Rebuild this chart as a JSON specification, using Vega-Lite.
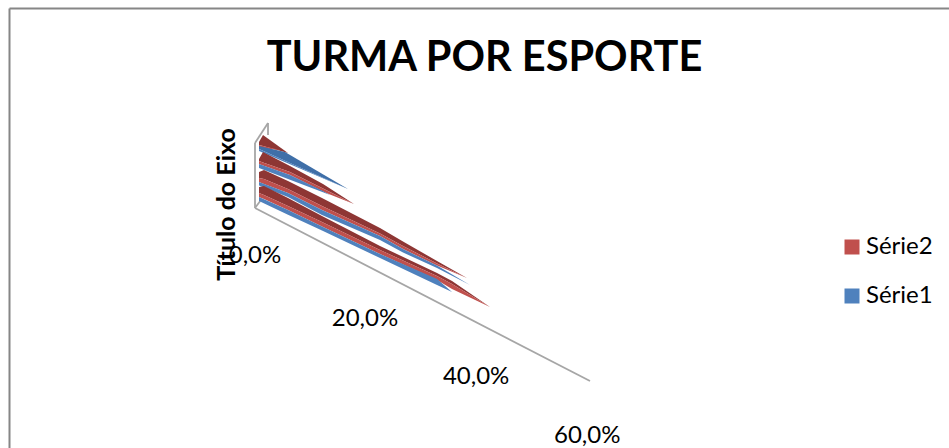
{
"$schema":"https://vega.github.io/schema/vega-lite/v6.json",
"width":940,"height":440,
"autosize":{"type":"none"},
"padding":{"left":9,"top":8,"right":0,"bottom":0},
"background":"white",
"view":{"stroke":null},
"title":{"text":"TURMA POR ESPORTE","font":"Lato","fontSize":41.5,"fontWeight":"bold","color":"#000000","anchor":"middle","dx":5.5,"dy":104,"offset":0,"baseline":"alphabetic"},
"datasets":{
"eixos":[
{"id":"piso","pct":0,"alt":0},{"id":"piso","pct":60,"alt":-173},
{"id":"parede","pct":0,"alt":0},{"id":"parede","pct":0,"alt":65},
{"id":"topo","pct":0,"alt":65},{"id":"topo","pct":2.33,"alt":85},
{"id":"fundo","pct":2.33,"alt":85},{"id":"fundo","pct":2.33,"alt":73},
{"id":"lado","pct":0,"alt":0},{"id":"lado","pct":1.07,"alt":8}
],
"faces":[
{"id":"1a","face":"Série2 topo","pct":0.72,"topo":66,"base":63},{"id":"1a","face":"Série2 topo","pct":1.43,"topo":73,"base":61.9},{"id":"1a","face":"Série2 topo","pct":5.91,"topo":55,"base":55},
{"id":"1b","face":"Série2","pct":0.72,"topo":63,"base":60},{"id":"1b","face":"Série2","pct":4.48,"topo":58,"base":58},
{"id":"1c","face":"Série1 topo","pct":0.72,"topo":62,"base":59},{"id":"1c","face":"Série1 topo","pct":5.37,"topo":56,"base":47.3},{"id":"1c","face":"Série1 topo","pct":16.66,"topo":19,"base":19},
{"id":"1d","face":"Série1","pct":0.72,"topo":59,"base":57},{"id":"1d","face":"Série1","pct":16.66,"topo":19,"base":19},
{"id":"2a","face":"Série2 topo","pct":0.72,"topo":49,"base":47},{"id":"2a","face":"Série2 topo","pct":1.43,"topo":56,"base":45.5},{"id":"2a","face":"Série2 topo","pct":6.27,"topo":42,"base":36},{"id":"2a","face":"Série2 topo","pct":12.18,"topo":24,"base":19.5},{"id":"2a","face":"Série2 topo","pct":17.73,"topo":4,"base":4},
{"id":"2b","face":"Série2","pct":0.72,"topo":47,"base":44},{"id":"2b","face":"Série2","pct":1.43,"topo":45.5,"base":42.5},{"id":"2b","face":"Série2","pct":6.27,"topo":36,"base":33},{"id":"2b","face":"Série2","pct":12.18,"topo":19.5,"base":16.5},{"id":"2b","face":"Série2","pct":13.43,"topo":16,"base":13.5},{"id":"2b","face":"Série2","pct":17.73,"topo":4,"base":4},
{"id":"2d","face":"Série1","pct":0.72,"topo":44,"base":40},{"id":"2d","face":"Série1","pct":6.27,"topo":33,"base":28.2},{"id":"2d","face":"Série1","pct":12.18,"topo":17,"base":15.7},{"id":"2d","face":"Série1","pct":13.43,"topo":13,"base":13},
{"id":"3a","face":"Série2 topo","pct":0.72,"topo":36,"base":30},{"id":"3a","face":"Série2 topo","pct":1.61,"topo":38,"base":29},{"id":"3a","face":"Série2 topo","pct":5.91,"topo":27,"base":19},{"id":"3a","face":"Série2 topo","pct":12,"topo":10,"base":2},{"id":"3a","face":"Série2 topo","pct":22.39,"topo":-20,"base":-25.5},{"id":"3a","face":"Série2 topo","pct":26.51,"topo":-33.5,"base":-38},{"id":"3a","face":"Série2 topo","pct":32.6,"topo":-53,"base":-55.5},{"id":"3a","face":"Série2 topo","pct":37.97,"topo":-70,"base":-70},
{"id":"3b","face":"Série2","pct":0.72,"topo":30,"base":26},{"id":"3b","face":"Série2","pct":1.61,"topo":29,"base":24},{"id":"3b","face":"Série2","pct":5.91,"topo":19,"base":15},{"id":"3b","face":"Série2","pct":12,"topo":2,"base":-2},{"id":"3b","face":"Série2","pct":22.39,"topo":-25.5,"base":-28},{"id":"3b","face":"Série2","pct":26.51,"topo":-38,"base":-41},{"id":"3b","face":"Série2","pct":32.6,"topo":-55.5,"base":-57.5},{"id":"3b","face":"Série2","pct":37.97,"topo":-70,"base":-70},
{"id":"3d","face":"Série1","pct":0.72,"topo":26,"base":22.5},{"id":"3d","face":"Série1","pct":5.91,"topo":15,"base":11},{"id":"3d","face":"Série1","pct":12,"topo":-2,"base":-7},{"id":"3d","face":"Série1","pct":22.39,"topo":-28,"base":-32},{"id":"3d","face":"Série1","pct":26.51,"topo":-41,"base":-44.5},{"id":"3d","face":"Série1","pct":32.6,"topo":-57.5,"base":-60},{"id":"3d","face":"Série1","pct":38.51,"topo":-77,"base":-77},
{"id":"4a","face":"Série2 topo","pct":0.72,"topo":21,"base":15},{"id":"4a","face":"Série2 topo","pct":1.61,"topo":22,"base":13},{"id":"4a","face":"Série2 topo","pct":5.91,"topo":10,"base":2},{"id":"4a","face":"Série2 topo","pct":12,"topo":-8,"base":-14},{"id":"4a","face":"Série2 topo","pct":22.39,"topo":-38,"base":-42},{"id":"4a","face":"Série2 topo","pct":32.6,"topo":-65,"base":-68},{"id":"4a","face":"Série2 topo","pct":35.29,"topo":-73,"base":-76},{"id":"4a","face":"Série2 topo","pct":42.09,"topo":-99,"base":-99},
{"id":"4b","face":"Série2","pct":0.72,"topo":15,"base":11},{"id":"4b","face":"Série2","pct":1.61,"topo":13,"base":9},{"id":"4b","face":"Série2","pct":5.91,"topo":2,"base":-2},{"id":"4b","face":"Série2","pct":12,"topo":-14,"base":-18.5},{"id":"4b","face":"Série2","pct":22.39,"topo":-42,"base":-46},{"id":"4b","face":"Série2","pct":32.6,"topo":-68,"base":-72},{"id":"4b","face":"Série2","pct":35.29,"topo":-76,"base":-81},{"id":"4b","face":"Série2","pct":42.09,"topo":-99,"base":-99},
{"id":"4d","face":"Série1","pct":0.72,"topo":11,"base":7},{"id":"4d","face":"Série1","pct":5.91,"topo":-2,"base":-6.7},{"id":"4d","face":"Série1","pct":12,"topo":-18.5,"base":-22.6},{"id":"4d","face":"Série1","pct":22.39,"topo":-46,"base":-50},{"id":"4d","face":"Série1","pct":32.6,"topo":-71,"base":-77},{"id":"4d","face":"Série1","pct":35.29,"topo":-84,"base":-84}
],
"rotulos":[
{"rotulo":"0,0%","pct":0,"alt":-48},
{"rotulo":"20,0%","pct":19.7,"alt":-111},
{"rotulo":"40,0%","pct":39.6,"alt":-169},
{"rotulo":"60,0%","pct":59.5,"alt":-227.5}
]
},
"encoding":{
"x":{"field":"pct","type":"quantitative","scale":{"domain":[-44.06,124.3],"nice":false,"zero":false},
"axis":{"orient":"top","title":null,"labels":false,"ticks":false,"grid":false,"domain":true,"domainColor":"#868686","domainWidth":2}},
"y":{"field":"alt","type":"quantitative","scale":{"domain":[-240,200],"nice":false,"zero":false},
"axis":{"orient":"left","title":"Título do Eixo","labels":false,"ticks":false,"grid":false,"domain":true,"domainColor":"#868686","domainWidth":2,"titleFont":"Lato","titleFontSize":25,"titleFontWeight":"bold","titleColor":"#000000","titleX":230.5,"titleY":196}}
},
"layer":[
{"data":{"name":"eixos"},"mark":{"type":"line","color":"#a6a6a6","strokeWidth":1.8},"encoding":{"detail":{"field":"id"}}},
{"data":{"name":"faces"},"mark":{"type":"area","orient":"vertical"},
"encoding":{
"y":{"field":"topo","type":"quantitative"},
"y2":{"field":"base"},
"detail":{"field":"id"},
"color":{"field":"face","type":"nominal","scale":{"domain":["Série2","Série1","Série2 topo","Série1 topo"],"range":["#c0504d","#4f81bd","#8e3634","#3f6fa8"]},
"legend":{"values":["Série2","Série1"],"title":null,"orient":"none","legendX":831,"legendY":227,"symbolType":"square","symbolSize":225,"symbolStrokeWidth":0,"labelFont":"Lato","labelFontSize":24,"labelColor":"#000000","rowPadding":25,"labelOffset":2}}
}},
{"data":{"name":"rotulos"},"mark":{"type":"text","font":"Lato","fontSize":24,"color":"#000000","align":"center","baseline":"middle"},"encoding":{"text":{"field":"rotulo","type":"nominal"}}}
]
}
